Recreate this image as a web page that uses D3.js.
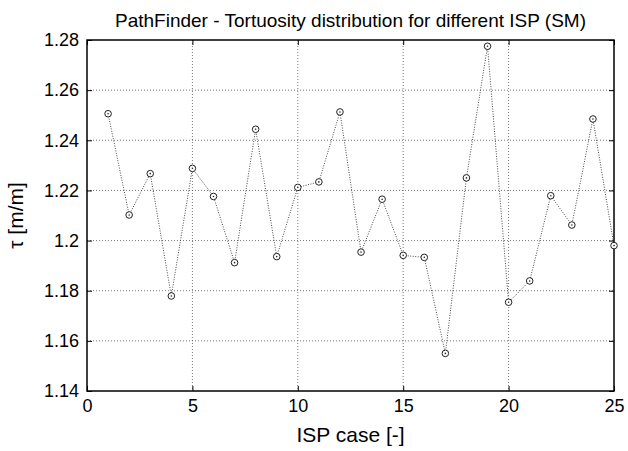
<!DOCTYPE html>
<html>
<head>
<meta charset="utf-8">
<script src="https://cdn.jsdelivr.net/npm/d3@7"></script>
<style>
  body { margin: 0; background: #fff; }
  text { font-family: "Liberation Sans", Arial, sans-serif; fill: #000; }
</style>
</head>
<body>
<svg id="chart"></svg>
<script>
var cases = d3.range(1, 26);
var tau = [1.2506, 1.2102, 1.2267, 1.1779, 1.2288, 1.2176, 1.1912, 1.2444, 1.1936, 1.2212,
           1.2234, 1.2513, 1.1954, 1.2165, 1.1941, 1.1933, 1.1550, 1.2250, 1.2775, 1.1754,
           1.1839, 1.2179, 1.2062, 1.2485, 1.1980];
var xTicks = [0, 5, 10, 15, 20, 25];
var yTicks = [1.14, 1.16, 1.18, 1.2, 1.22, 1.24, 1.26, 1.28];

var W = 628, H = 451;
var margin = {top: 40, right: 14, bottom: 60, left: 87};
var width = W - margin.left - margin.right,
    height = H - margin.top - margin.bottom;

var svg = d3.select("#chart").attr("width", W).attr("height", H);
var g = svg.append("g").attr("transform", "translate(" + margin.left + "," + margin.top + ")");

var x = d3.scaleLinear().domain([0, 25]).range([0, width]);
var y = d3.scaleLinear().domain([1.14, 1.28]).range([height, 0]);

// grid
g.selectAll("line.vgrid").data(xTicks.slice(1, -1)).enter().append("line")
  .attr("x1", d => x(d)).attr("x2", d => x(d))
  .attr("y1", 0).attr("y2", height)
  .attr("stroke", "#555").attr("stroke-width", 0.8).attr("stroke-dasharray", "1,2");
g.selectAll("line.hgrid").data(yTicks.slice(1, -1)).enter().append("line")
  .attr("y1", d => y(d)).attr("y2", d => y(d))
  .attr("x1", 0).attr("x2", width)
  .attr("stroke", "#555").attr("stroke-width", 0.8).attr("stroke-dasharray", "1,2");

// axes, ticks pointing inward
var xAxis = g.append("g").attr("transform", "translate(0," + height + ")")
  .call(d3.axisBottom(x).tickValues(xTicks).tickSize(-5).tickPadding(8).tickFormat(d3.format("d")));
var yAxis = g.append("g")
  .call(d3.axisLeft(y).tickValues(yTicks).tickSize(-5).tickPadding(8).tickFormat(d => d3.format("")(+d.toFixed(2))));
g.append("g").call(d3.axisTop(x).tickValues(xTicks).tickSize(-5).tickFormat(""));
g.append("g").attr("transform", "translate(" + width + ",0)")
  .call(d3.axisRight(y).tickValues(yTicks).tickSize(-5).tickFormat(""));

g.selectAll(".domain").remove();
g.selectAll(".tick line").attr("stroke", "#000");
xAxis.selectAll("text").style("font-size", "18px");
yAxis.selectAll("text").style("font-size", "18px");

g.append("rect").attr("width", width).attr("height", height)
  .attr("fill", "none").attr("stroke", "#000").attr("stroke-width", 1.5);

// series
var line = d3.line().x((d, i) => x(cases[i])).y(d => y(d));
g.append("path").datum(tau)
  .attr("d", line)
  .attr("fill", "none").attr("stroke", "#333").attr("stroke-width", 0.9)
  .attr("stroke-dasharray", "1,1.5");

var pts = g.selectAll("g.pt").data(tau).enter().append("g")
  .attr("transform", (d, i) => "translate(" + x(cases[i]) + "," + y(d) + ")");
pts.append("circle").attr("r", 3.3).attr("fill", "#fff").attr("stroke", "#222").attr("stroke-width", 1);
pts.append("circle").attr("r", 0.8).attr("fill", "#222");

// titles
svg.append("text")
  .attr("x", margin.left + width / 2).attr("y", 27)
  .attr("text-anchor", "middle").style("font-size", "19px")
  .text("PathFinder - Tortuosity distribution for different ISP (SM)");
svg.append("text")
  .attr("x", margin.left + width / 2).attr("y", 442)
  .attr("text-anchor", "middle").style("font-size", "21px")
  .text("ISP case [-]");
svg.append("text")
  .attr("transform", "translate(23," + (margin.top + height / 2) + ") rotate(-90)")
  .attr("text-anchor", "middle").style("font-size", "21px")
  .text("τ [m/m]");
</script>
</body>
</html>
